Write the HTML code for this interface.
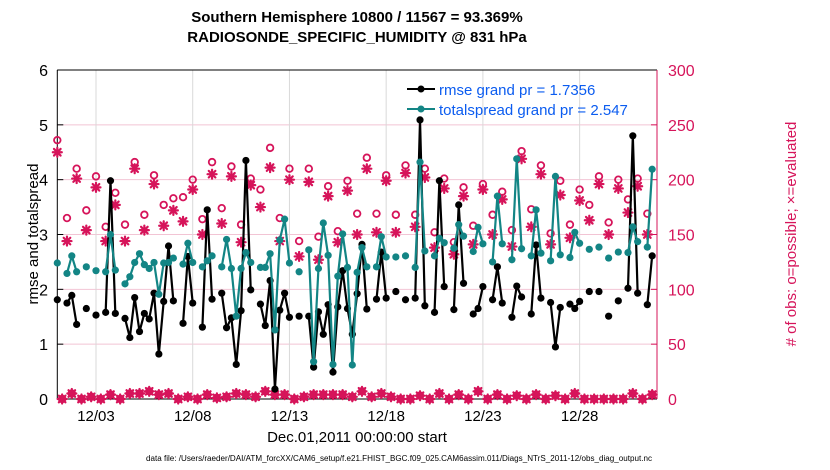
<!DOCTYPE html>
<html><head><meta charset="utf-8"><style>
body{margin:0;background:#fff;}
svg{display:block;font-family:"Liberation Sans",sans-serif;}
</style></head><body>
<svg id="chart" width="830" height="470" xmlns="http://www.w3.org/2000/svg">
<rect width="830" height="470" fill="#fff"/>
<text x="357" y="22" font-size="15" font-weight="bold" text-anchor="middle">Southern Hemisphere 10800 / 11567 = 93.369%</text>
<text x="357" y="42" font-size="15" font-weight="bold" text-anchor="middle">RADIOSONDE_SPECIFIC_HUMIDITY @ 831 hPa</text>
<g id="grid"></g>
<g id="axes"></g>
<g id="marks"></g>
<text x="0" y="0" font-size="15" text-anchor="middle" transform="translate(38,234) rotate(-90)">rmse and totalspread</text>
<text x="0" y="0" font-size="15" fill="#d6145a" text-anchor="middle" transform="translate(796,234) rotate(-90)"># of obs: o=possible; ×=evaluated</text>
<text x="357" y="442" font-size="15" text-anchor="middle">Dec.01,2011 00:00:00 start</text>
<text x="146" y="461" font-size="8" textLength="506" lengthAdjust="spacingAndGlyphs">data file: /Users/raeder/DAI/ATM_forcXX/CAM6_setup/f.e21.FHIST_BGC.f09_025.CAM6assim.011/Diags_NTrS_2011-12/obs_diag_output.nc</text>
<g id="legend">
<line x1="407" y1="89" x2="435" y2="89" stroke="#000" stroke-width="2"/>
<circle cx="421" cy="89" r="3.5" fill="#000"/>
<text x="439" y="95" font-size="15" fill="#0b5cf0">rmse grand pr = 1.7356</text>
<line x1="407" y1="109" x2="435" y2="109" stroke="#138585" stroke-width="2"/>
<circle cx="421" cy="109" r="3.5" fill="#138585"/>
<text x="439" y="115" font-size="15" fill="#0b5cf0">totalspread grand pr = 2.547</text>
</g>
</svg>
<script>
const N = null;
const rmse = [1.81,N,1.75,1.89,1.36,N,1.65,N,1.53,N,1.58,3.98,1.56,N,1.47,1.12,1.85,1.23,1.56,1.46,1.93,0.82,1.78,2.79,1.79,N,1.38,2.6,1.75,N,1.31,3.45,1.82,N,1.93,1.30,1.48,0.63,1.61,4.35,1.99,N,1.73,1.34,2.16,0.18,1.62,1.93,1.49,N,1.51,N,1.51,0.58,1.59,1.18,1.72,0.49,1.68,2.34,1.65,1.18,1.92,2.82,1.64,N,1.82,2.68,1.84,N,1.96,N,1.81,N,1.84,5.09,1.70,N,1.58,3.98,2.05,N,1.63,3.54,2.11,N,1.55,1.65,2.05,N,1.81,2.41,1.75,N,1.49,2.06,1.86,N,1.55,2.81,1.84,N,1.76,0.95,1.67,N,1.73,1.65,1.78,N,1.96,N,1.96,N,1.51,N,1.79,N,2.02,4.80,1.93,N,1.72,2.61];
const spread = [2.48,N,2.29,2.61,2.32,N,2.41,N,2.34,N,2.32,3.0,2.35,N,2.10,2.23,2.49,2.65,2.45,2.38,2.49,1.91,2.48,2.49,2.57,N,2.46,2.84,2.49,N,2.41,2.52,2.61,N,2.41,2.91,2.38,1.51,2.38,2.67,2.49,N,2.40,2.40,2.65,1.26,2.90,3.28,2.48,N,2.32,N,2.72,0.68,2.38,3.21,2.62,0.63,2.24,3.01,2.40,0.62,2.31,2.76,2.41,N,2.41,2.96,2.59,N,2.59,N,2.61,N,2.40,4.32,2.70,N,2.61,2.93,2.85,N,2.75,3.18,2.97,N,2.69,3.13,2.83,N,2.50,3.70,2.83,N,2.54,4.38,2.74,N,2.61,3.45,2.66,N,2.52,4.06,2.63,N,2.58,3.04,2.84,N,2.73,N,2.77,N,2.57,N,2.68,N,2.67,3.14,2.87,N,2.77,4.19];
const possibleEven = [236,165,210,172,203,157,188,159,216,168,204,177,183,184,200,164,216,174,212,159,201,191,229,165,210,144,210,148,194,153,199,169,220,169,204,168,213,168,210,152,201,143,193,158,196,168,189,154,226,173,213,151,199,159,191,177,203,161,200,182,201,169];
const evaluatedEven = [225,144,201,154,193,144,177,144,210,154,196,158,172,162,191,150,205,160,203,143,195,175,211,144,200,130,198,127,185,143,190,150,210,152,199,152,206,157,202,138,192,132,185,141,191,150,182,139,219,157,205,141,186,147,181,163,196,150,192,170,194,150];
const countOdd = [0,5,0,2,0,4,0,5,5,7,4,5,0,2,0,4,1,2,5,4,2,7,4,4,0,2,4,4,4,4,2,7,2,5,2,0,0,3,0,5,0,4,0,7,0,4,0,3,0,4,0,3,0,5,0,0,0,0,0,5,0,4];
const leftTicks = [0,1,2,3,4,5,6];
const rightTicks = [0,50,100,150,200,250,300];
const xTickDays = [2,7,12,17,22,27];
const xTickLabels = ["12/03","12/08","12/13","12/18","12/23","12/28"];

const X0=57.3, X1=657, Y0=399, Y1=70, DAYPX=(X1-X0)/31;
const xs = d => X0 + d*DAYPX;
const yl = v => Y0 - v*(Y0-Y1)/6;
const yr = c => Y0 - c*(Y0-Y1)/300;
const NS="http://www.w3.org/2000/svg";
function mk(tag, attrs, parent){const e=document.createElementNS(NS,tag);for(const k in attrs)e.setAttribute(k,attrs[k]);parent.appendChild(e);return e;}
const grid=document.getElementById('grid'), axes=document.getElementById('axes'), marks=document.getElementById('marks');
const PINK="#d6145a", TEAL="#138585";

rightTicks.forEach((t,i)=>{
  if(t>0&&t<300){const l=mk('line',{x1:X0,x2:X1,y1:yr(t),y2:yr(t),stroke:'#f2c4d4','stroke-width':1},grid);
  
  }
  const tx=mk('text',{x:668,y:yr(t)+6,'font-size':16,fill:PINK},axes);tx.textContent=t;
  
  
  mk('line',{x1:X1-6,x2:X1,y1:yr(t),y2:yr(t),stroke:PINK},axes);
});
xTickDays.forEach((d,i)=>{
  const l=mk('line',{x1:xs(d),x2:xs(d),y1:Y1,y2:Y0,stroke:'#d9d9d9','stroke-width':1},grid);
  
  
  const tx=mk('text',{x:xs(d),y:Y0+22,'font-size':15,'text-anchor':'middle'},axes);tx.textContent=xTickLabels[i];
  
  
});
leftTicks.forEach(t=>{
  const tx=mk('text',{x:48,y:yl(t)+6,'font-size':16,'text-anchor':'end'},axes);tx.textContent=t;
  
  
  mk('line',{x1:X0,x2:X0+6,y1:yl(t),y2:yl(t),stroke:'#000'},axes);
});
mk('line',{x1:X0,x2:X0,y1:Y1,y2:Y0,stroke:'#000'},axes);
mk('line',{x1:X0,x2:X1,y1:Y0,y2:Y0,stroke:'#000'},axes);
mk('line',{x1:X0,x2:X1,y1:Y1,y2:Y1,stroke:'#000'},axes);
mk('line',{x1:X1,x2:X1,y1:Y1,y2:Y0,stroke:PINK},axes);

function star(cx,cy,name){
  const g=mk('g',{stroke:PINK,'stroke-width':2.2,'stroke-linecap':'round'},marks);
  
  
  [[0,-4.5,0,4.5],[-4.5,0,4.5,0],[-3.3,-3.3,3.3,3.3],[-3.3,3.3,3.3,-3.3]].forEach(s=>mk('line',{x1:cx+s[0],y1:cy+s[1],x2:cx+s[2],y2:cy+s[3]},g));
}
function ring(cx,cy,name){
  const c=mk('circle',{cx:cx,cy:cy,r:3.3,fill:'none',stroke:PINK,'stroke-width':1.8},marks);
  
  
}
possibleEven.forEach((c,k)=>ring(xs(k*0.5),yr(c),'possible-obs-marker'));
evaluatedEven.forEach((c,k)=>star(xs(k*0.5),yr(c),'evaluated-obs-marker'));
countOdd.forEach((c,k)=>{const x=xs((2*k+1)*0.25);ring(x,yr(c),'possible-obs-marker');star(x,yr(c),'evaluated-obs-marker');});

function series(vals,color,name){
  let d='';let pen=false;
  vals.forEach((v,i)=>{if(v===null){pen=false;return;}d+=(pen?'L':'M')+xs(i*0.25).toFixed(2)+' '+yl(v).toFixed(2)+' ';pen=true;});
  const p=mk('path',{d:d,fill:'none',stroke:color,'stroke-width':2.2,'stroke-linejoin':'round'},marks);
  
  
  vals.forEach((v,i)=>{if(v===null)return;
    const c=mk('circle',{cx:xs(i*0.25),cy:yl(v),r:3.6,fill:color},marks);
    
    });
}
series(rmse,'#000','rmse');
series(spread,TEAL,'totalspread');
</script>
</body></html>
